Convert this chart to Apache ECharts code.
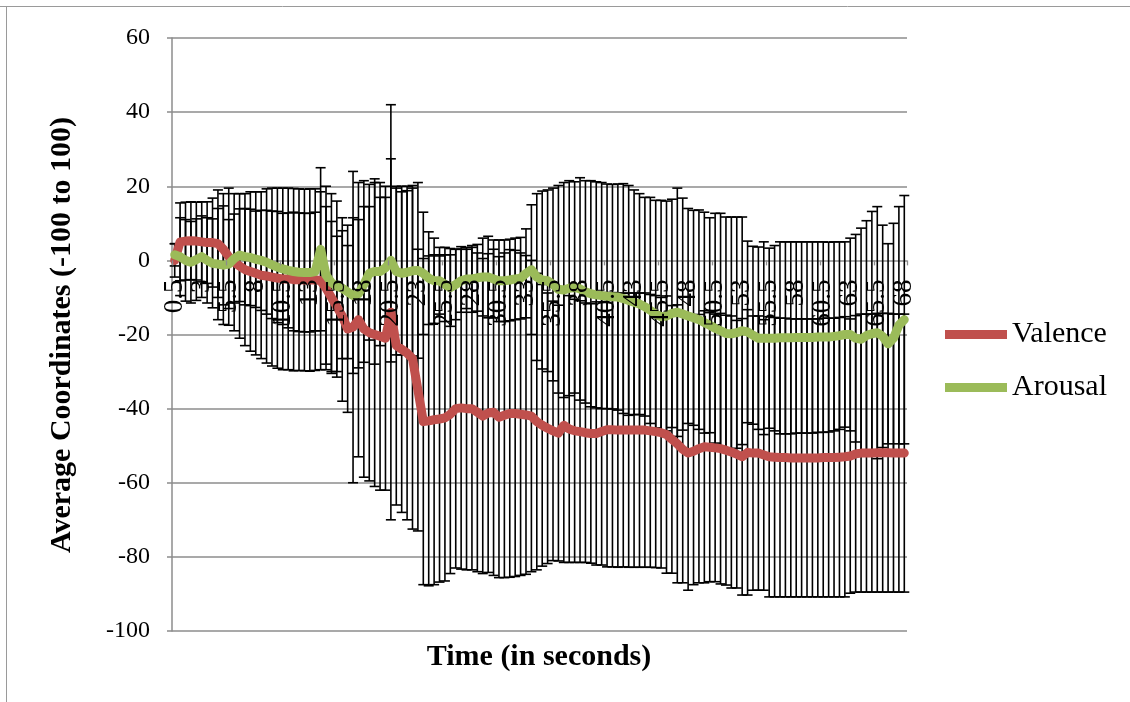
<!DOCTYPE html>
<html><head><meta charset="utf-8">
<script src="https://cdn.jsdelivr.net/npm/echarts@6/dist/echarts.min.js"></script>
<style>html,body{margin:0;padding:0;background:#fff}#c{width:1130px;height:702px}</style>
</head><body><div id="c"></div>
<script>
const categories = [0.5,1,1.5,2,2.5,3,3.5,4,4.5,5,5.5,6,6.5,7,7.5,8,8.5,9,9.5,10,10.5,11,11.5,12,12.5,13,13.5,14,14.5,15,15.5,16,16.5,17,17.5,18,18.5,19,19.5,20,20.5,21,21.5,22,22.5,23,23.5,24,24.5,25,25.5,26,26.5,27,27.5,28,28.5,29,29.5,30,30.5,31,31.5,32,32.5,33,33.5,34,34.5,35,35.5,36,36.5,37,37.5,38,38.5,39,39.5,40,40.5,41,41.5,42,42.5,43,43.5,44,44.5,45,45.5,46,46.5,47,47.5,48,48.5,49,49.5,50,50.5,51,51.5,52,52.5,53,53.5,54,54.5,55,55.5,56,56.5,57,57.5,58,58.5,59,59.5,60,60.5,61,61.5,62,62.5,63,63.5,64,64.5,65,65.5,66,66.5,67,67.5,68];

const valence = [0,5,5.2,5.3,5.2,5,4.8,4.8,4.5,3,1,-0.5,-1.5,-2.5,-3,-3.5,-4,-4.2,-4.5,-4.8,
-5,-5,-5.2,-5.2,-5.3,-5.3,-5.2,-5.5,-7.5,-10,-12.5,-15,-18.5,-18,-16,-18.5,-19.5,-20,-20.5,-21,
-14,-23,-24,-25,-26.5,-35,-43.5,-43.3,-43,-42.8,-42.5,-41.5,-40,-39.8,-40,-40,-41,-42,-41.2,-41,
-42.3,-41.8,-41.3,-41.3,-41.5,-41.7,-42,-43.5,-44.5,-45.3,-46,-46.6,-44.5,-45.5,-46,-46.2,-46.5,-46.7,-46.7,-46.2,
-45.7,-45.7,-45.8,-45.8,-45.8,-45.8,-45.8,-45.8,-46,-46.2,-46.5,-47,-48.3,-49.5,-51,-52,-51.5,-50.8,-50.3,-50.4,
-50.6,-50.8,-51.2,-51.7,-52.3,-53,-51.8,-52,-52,-52.5,-53,-53.1,-53.2,-53.2,-53.3,-53.3,-53.3,-53.3,-53.3,-53.3,
-53.2,-53.2,-53.2,-53.1,-53,-52.8,-52.2,-52,-52,-52,-51.9,-51.9,-51.9,-52,-52,-52];

const valenceSD = [4.5,10.5,10.5,10.5,10.5,10.8,11,12,14.5,15,18.5,18.5,19.5,20.5,21.5,22,22.5,23.5,24,24.3,
24.5,24.5,24.6,24.5,24.5,24.6,24.5,24,22,20.5,19,23,22.5,42,37,40,40,41,41.5,41,
56,43,44,45,46,38,44,44.5,44.5,44,44,43,43,43.5,43.5,43.5,43,42.5,43,44,
43.3,43.8,44.2,44,43.5,43,42,40,38,36.5,35,34.5,37,36,35.5,35.3,35,35,35.5,36,
37,37,37,36.9,37,37,37,37,36.8,36.7,36.5,37.4,36.1,37.5,36,37,36,36.2,36.7,36.3,
36.1,36.5,36.4,36.7,36.1,37.3,38.5,37,37,36.5,37.8,37.7,37.6,37.6,37.5,37.5,37.5,37.5,37.5,37.5,
37.6,37.6,37.6,37.7,37.8,37,37.3,37.5,37.5,37.5,37.6,37.6,37.6,37.5,37.5,37.5];

const arousal = [1.5,1,0,-0.5,0.2,1,0,-0.8,-1,-1.3,-1,0.5,1.4,1,0.8,0.3,0,-0.5,-1.2,-1.8,
-2.3,-2.7,-3,-3.2,-3.3,-3.3,-3,3,-4,-6,-7,-7.5,-8.5,-9.5,-9,-6.5,-3.5,-3,-3,-2,
0,-3,-3.5,-3.2,-2.8,-2.7,-3.5,-4.8,-5.5,-5.5,-6.5,-7.3,-6.5,-5.5,-5,-5,-4.7,-4.5,-4.5,-5,
-5.5,-5.5,-5.3,-5,-4.8,-3.5,-2.5,-4.5,-5.3,-5.5,-6.5,-7.8,-8,-7.5,-7.3,-7.7,-8.5,-9,-9.3,-9.5,
-9.7,-9.8,-9.9,-10.3,-10.8,-11.3,-11.8,-12.5,-13.5,-14.5,-15.2,-15,-14.3,-14,-14.5,-15,-15.5,-16,-16.8,-17.5,
-18.3,-19,-19.7,-19.8,-19.5,-19,-19.3,-20.2,-21,-21,-21,-21,-20.9,-20.9,-20.9,-20.8,-20.8,-20.8,-20.8,-20.7,
-20.7,-20.7,-20.5,-20.3,-20,-20,-21,-21.3,-20.3,-19.8,-19.5,-20.5,-22.5,-21,-17.5,-16];

const arousalSD = [3,10.5,11,11,11,11,11.5,12,15,16,12,12,12.5,13,13,13,13.5,14,14.5,15,
15,15.5,16,16,16,16,16,22,24,24,23,19,18,21,20,21,18,25,20,19,
27.4,22.5,22,22,23,23.7,16.5,12.5,11.5,9,10,10.5,9.5,8.5,8,9,9,10.5,11,10.5,
11,11,11,11,11,12,17.5,22.5,24,24.5,26,28,29,29,28.5,30,30,30.5,30.5,30.5,
30.3,30.3,30.5,31,31,30.3,29.8,29.5,30.5,30.7,31.4,31,30.8,33.5,31.3,29,29,29.6,29.8,29,
31,31.7,31.4,31.5,31.2,30.7,24.5,24,24.6,26,24.3,25,25.9,25.9,25.9,25.8,25.8,25.8,25.8,25.7,
25.7,25.6,25.5,25.3,25,26,28,30,31,33,34,30,27,31,32,33.5];

const yMin = -100, yMax = 60, yStep = 20;

const FONT = '"Liberation Serif","Times New Roman",serif';
const GRID = '#8c8c8c';
const GRID_TOP = 38, GRID_BOTTOM = 71, H = 702;
const plotH = H - GRID_TOP - GRID_BOTTOM;
// move the category axis up so it sits on the value 0
const zeroOffset = -plotH * (0 - yMin) / (yMax - yMin);

function errData(mean, sd) { return mean.map((m, i) => [i, m - sd[i], m + sd[i]]); }
function renderErr(params, api) {
  const x = api.value(0);
  const lo = api.coord([x, api.value(1)]);
  const hi = api.coord([x, api.value(2)]);
  const hw = 5;
  const style = { stroke: '#000', lineWidth: 1.6 };
  return { type: 'group', children: [
    { type: 'line', shape: { x1: lo[0], y1: lo[1], x2: hi[0], y2: hi[1] }, style },
    { type: 'line', shape: { x1: lo[0] - hw, y1: lo[1], x2: lo[0] + hw, y2: lo[1] }, style },
    { type: 'line', shape: { x1: hi[0] - hw, y1: hi[1], x2: hi[0] + hw, y2: hi[1] }, style }
  ]};
}

const chart = echarts.init(document.getElementById('c'), null, { renderer: 'canvas' });
chart.setOption({
  animation: false,
  backgroundColor: '#fff',
  grid: { left: 172, right: 223, top: GRID_TOP, bottom: GRID_BOTTOM },
  legend: {
    data: ['Valence', 'Arousal'],
    orient: 'vertical', left: 940, top: 314,
    icon: 'rect', itemWidth: 62, itemHeight: 9, itemGap: 22,
    textStyle: { fontFamily: FONT, fontSize: 30, color: '#000', lineHeight: 31 }
  },
  xAxis: {
    type: 'category', data: categories.map(String), boundaryGap: true, z: 10,
    position: 'bottom', offset: zeroOffset,
    axisLine: { show: false, onZero: false },
    axisTick: { show: true, length: 5, lineStyle: { color: GRID, width: 1.3 },
      interval: function (idx) { return idx % 10 === 0; } },
    axisLabel: { interval: 4, rotate: 90, margin: 19, fontFamily: FONT, fontSize: 27, color: '#000' },
    splitLine: { show: false }
  },
  yAxis: {
    type: 'value', min: yMin, max: yMax, interval: yStep,
    axisLine: { show: true, lineStyle: { color: GRID, width: 1.5 } },
    axisTick: { show: true, length: 5, lineStyle: { color: GRID, width: 1.5 } },
    axisLabel: { margin: 22, fontFamily: FONT, fontSize: 24, color: '#000' },
    splitLine: { show: true, lineStyle: { color: GRID, width: 1.5 } }
  },
  graphic: [
    { type: 'line', shape: { x1: 0, y1: 6.5, x2: 1130, y2: 6.5 }, style: { stroke: '#9a9a9a', lineWidth: 1 }, z: 0 },
    { type: 'line', shape: { x1: 6.5, y1: 6, x2: 6.5, y2: 702 }, style: { stroke: '#9a9a9a', lineWidth: 1 }, z: 0 },
    { type: 'text', x: 539, y: 657, style: { text: 'Time (in seconds)', font: 'bold 30px ' + FONT, fill: '#000', textAlign: 'center', textVerticalAlign: 'middle' } },
    { type: 'text', x: 62, y: 335, rotation: Math.PI / 2, style: { text: 'Average Coordinates (-100 to 100)', font: 'bold 30px ' + FONT, fill: '#000', textAlign: 'center', textVerticalAlign: 'middle' } }
  ],
  series: [
    { name: 'ValenceErr', type: 'custom', renderItem: renderErr, data: errData(valence, valenceSD), z: 1, encode: { x: 0, y: [1, 2] }, silent: true },
    { name: 'ArousalErr', type: 'custom', renderItem: renderErr, data: errData(arousal, arousalSD), z: 1, encode: { x: 0, y: [1, 2] }, silent: true },
    { name: 'Valence', type: 'line', data: valence, symbol: 'none', z: 3, itemStyle: { color: '#C0504D' },
      lineStyle: { color: '#C0504D', width: 9, cap: 'round', join: 'round' } },
    { name: 'Arousal', type: 'line', data: arousal, symbol: 'none', z: 4, itemStyle: { color: '#9BBB59' },
      lineStyle: { color: '#9BBB59', width: 9, cap: 'round', join: 'round' } }
  ]
});
</script></body></html>
